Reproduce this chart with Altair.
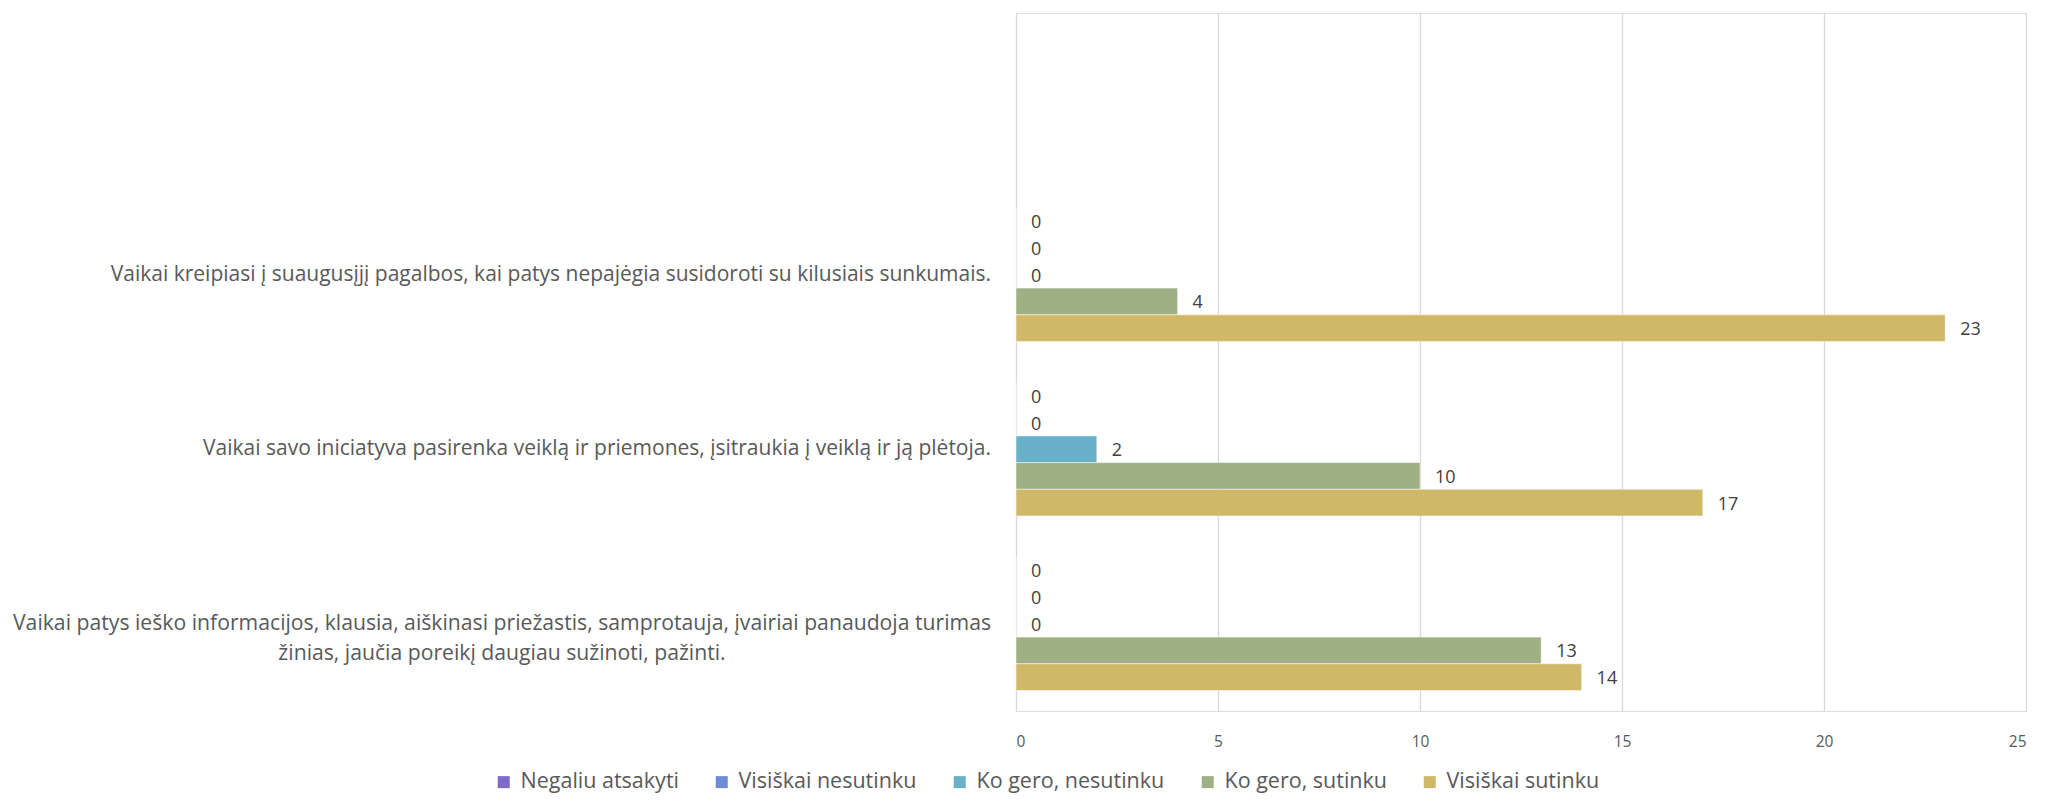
import altair as alt
import pandas as pd

# ---- data ----
categories = [
    "",
    "Vaikai kreipiasi į suaugusįjį pagalbos, kai patys nepajėgia susidoroti su kilusiais sunkumais.",
    "Vaikai savo iniciatyva pasirenka veiklą ir priemones, įsitraukia į veiklą ir ją plėtoja.",
    "Vaikai patys ieško informacijos, klausia, aiškinasi priežastis, samprotauja, įvairiai panaudoja turimas žinias, jaučia poreikį daugiau sužinoti, pažinti.",
]
wrapped_label = [
    "Vaikai patys ieško informacijos, klausia, aiškinasi priežastis, samprotauja, įvairiai panaudoja turimas",
    "žinias, jaučia poreikį daugiau sužinoti, pažinti.",
]
series = ["Negaliu atsakyti", "Visiškai nesutinku", "Ko gero, nesutinku", "Ko gero, sutinku", "Visiškai sutinku"]
colors = ["#7F6ACB", "#6C8CD5", "#6AB0C8", "#9EB084", "#CFB867"]

values_cat1 = [0, 0, 0, 4, 23]
values_cat2 = [0, 0, 2, 10, 17]
values_cat3 = [0, 0, 0, 13, 14]
x_ticks = [0, 5, 10, 15, 20, 25]

rows = []
for cat, vals in zip(categories[1:], [values_cat1, values_cat2, values_cat3]):
    for s, v in zip(series, vals):
        rows.append({"cat": cat, "series": s, "value": v})
df = pd.DataFrame(rows)

FONT = "Open Sans"
TXT = "#595959"

y_scale = alt.Scale(domain=categories, paddingInner=0.235, paddingOuter=0.1175)
y_enc = alt.Y("cat:N", scale=y_scale, axis=None)
yoff_enc = alt.YOffset("series:N", scale=alt.Scale(domain=series, paddingInner=0, paddingOuter=0))
x_enc = alt.X(
    "value:Q",
    scale=alt.Scale(domain=[0, 25], nice=False),
    axis=alt.Axis(
        values=x_ticks, title=None, domain=False, ticks=False, grid=True,
        gridColor="#D9D9D9", gridWidth=1.3, labelColor=TXT, labelFont=FONT,
        labelFontSize=15.5, labelPadding=23,
    ),
)

bars = alt.Chart(df).mark_bar(stroke="white", strokeWidth=0.5).encode(
    y=y_enc,
    yOffset=yoff_enc,
    x=x_enc,
    color=alt.Color(
        "series:N",
        scale=alt.Scale(domain=series, range=colors),
        legend=alt.Legend(
            title=None, orient="none", direction="horizontal", legendX=-523, legendY=758,
            symbolType="square", symbolSize=144, symbolStrokeWidth=0,
            labelFont=FONT, labelFontSize=21.5, labelColor=TXT, labelOffset=6,
            columnPadding=32, padding=0, labelLimit=400,
        ),
    ),
)

labels = alt.Chart(df).mark_text(align="left", baseline="middle", dx=15, dy=2,
                                 font=FONT, fontSize=18, color="#404040").encode(
    y=y_enc,
    yOffset=yoff_enc,
    x=alt.X("value:Q"),
    text=alt.Text("value:Q"),
)

single_df = pd.DataFrame({"cat": categories[1:3]})
cat_single = alt.Chart(single_df).mark_text(align="right", baseline="middle", font=FONT,
                                            fontSize=21, color=TXT).encode(
    y=alt.Y("cat:N", scale=y_scale, axis=None),
    x=alt.value(-25),
    text=alt.Text("cat:N"),
)

wrap_df = pd.DataFrame({"cat": [categories[3]]})
cat_wrap = alt.Chart(wrap_df).mark_text(align="center", baseline="middle", font=FONT,
                                        fontSize=21.2, color=TXT, lineHeight=30,
                                        text=wrapped_label).encode(
    y=alt.Y("cat:N", scale=y_scale, axis=None),
    x=alt.value(-514),
)

chart = alt.layer(bars, labels, cat_single, cat_wrap).properties(
    width=1010, height=698,
    autosize=alt.AutoSizeParams(type="none"),
    padding={"left": 1008, "top": 5, "right": 11, "bottom": 87},
).configure_view(stroke=None).configure(background="white")

chart.save("out.html", embed_options={"renderer": "svg", "actions": False})
